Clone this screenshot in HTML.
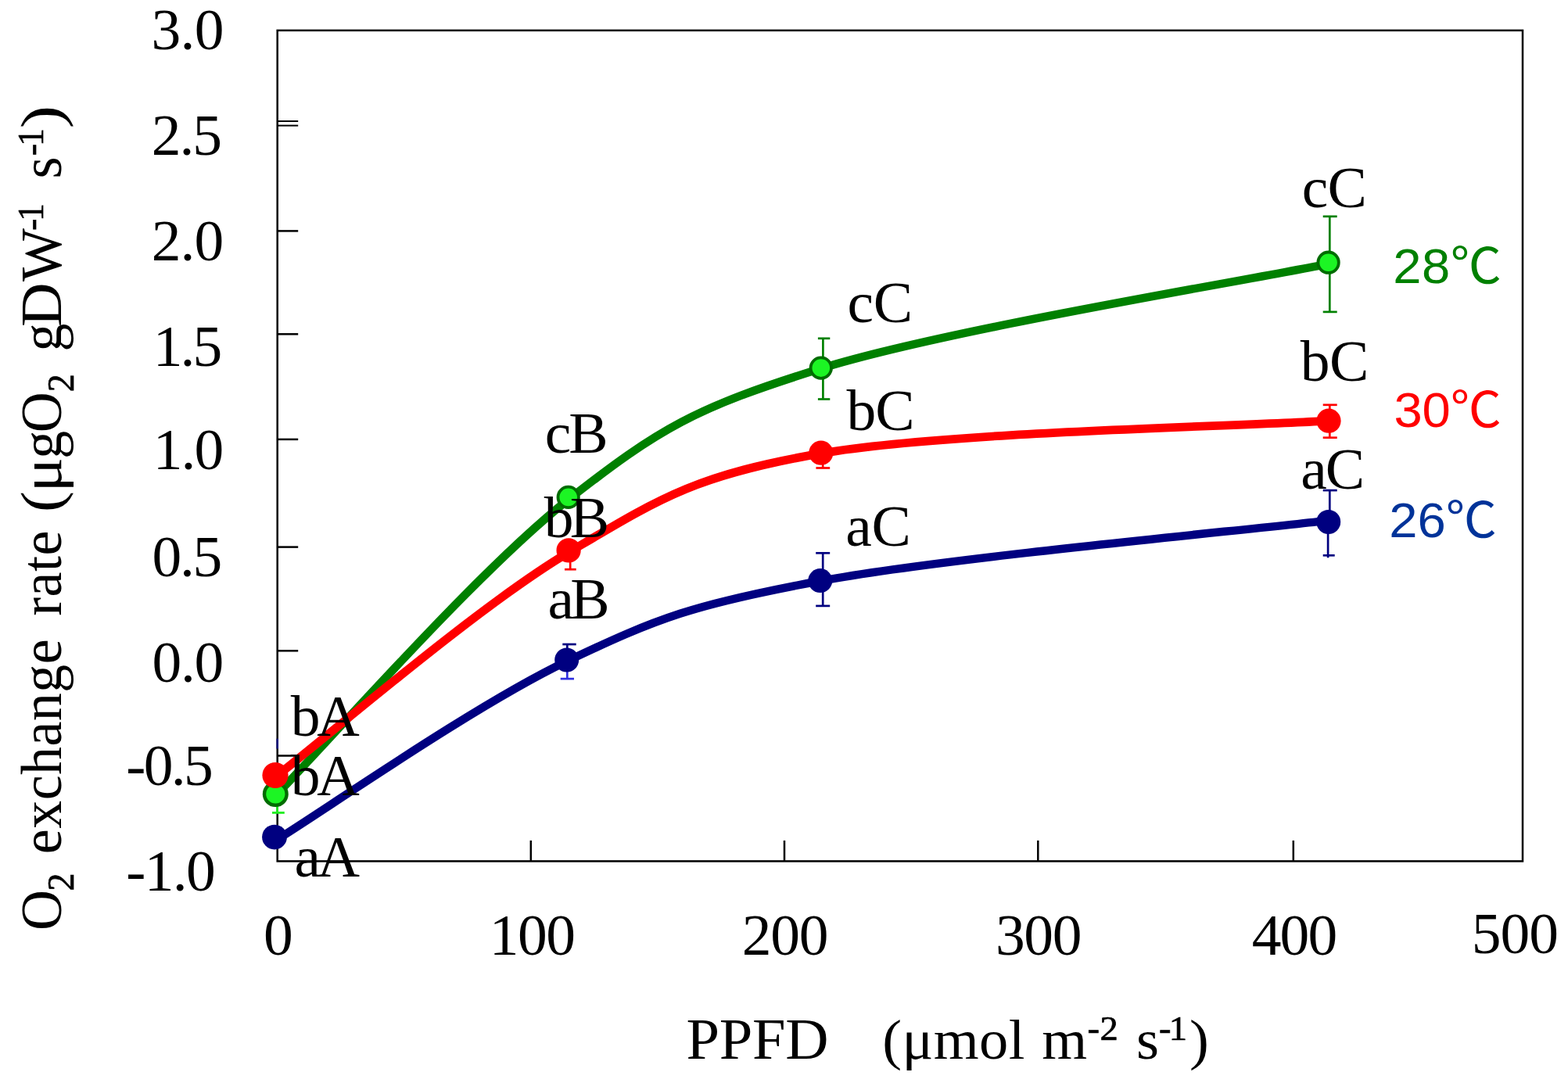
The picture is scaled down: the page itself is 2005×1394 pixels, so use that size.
<!DOCTYPE html>
<html lang="en"><head><meta charset="utf-8"><title>O2 exchange rate vs PPFD</title>
<style>html,body{margin:0;padding:0;background:#fff;overflow:hidden}svg{display:block;font-family:"Liberation Serif",serif;font-size:73px}.s{font-family:"Liberation Sans","Noto Sans CJK JP",sans-serif}.u{stroke:#000;stroke-width:0.7px}</style></head><body>
<svg width="2005" height="1394" viewBox="0 0 2005 1394">
<rect width="2005" height="1394" fill="#fff"/>
<g stroke="#000" stroke-width="2.50" fill="none">
<rect x="354.7" y="38.9" width="1592.3" height="1062.5"/>
<line x1="354.7" y1="295.4" x2="381.2" y2="295.4"/>
<line x1="354.7" y1="427.3" x2="381.2" y2="427.3"/>
<line x1="354.7" y1="561.9" x2="381.2" y2="561.9"/>
<line x1="354.7" y1="699.6" x2="381.2" y2="699.6"/>
<line x1="354.7" y1="832.3" x2="381.2" y2="832.3"/>
<line x1="354.7" y1="966.5" x2="381.2" y2="966.5"/>
<line x1="678.8" y1="1101.4" x2="678.8" y2="1074.9"/>
<line x1="1003.0" y1="1101.4" x2="1003.0" y2="1074.9"/>
<line x1="1327.3" y1="1101.4" x2="1327.3" y2="1074.9"/>
<line x1="1653.8" y1="1101.4" x2="1653.8" y2="1074.9"/>
</g>
<g stroke="#000" stroke-width="2" fill="none"><line x1="354.7" y1="155" x2="381.2" y2="155"/><line x1="354.7" y1="160.6" x2="381.2" y2="160.6"/></g>
<line x1="354.7" y1="944.6" x2="354.7" y2="957.6" stroke="#000080" stroke-width="2.4"/>
<text transform="translate(193.62,63.10) scale(1.035,1)" letter-spacing="-0.75">3.0</text>
<text transform="translate(193.78,197.90) scale(1.035,1)" letter-spacing="-1.98">2.5</text>
<text transform="translate(193.78,332.50) scale(1.035,1)" letter-spacing="-0.92">2.0</text>
<text transform="translate(195.70,467.90) scale(1.035,1)" letter-spacing="-2.81">1.5</text>
<text transform="translate(195.70,599.80) scale(1.035,1)" letter-spacing="-1.85">1.0</text>
<text transform="translate(194.48,737.20) scale(1.035,1)" letter-spacing="-2.22">0.5</text>
<text transform="translate(194.48,871.70) scale(1.035,1)" letter-spacing="-1.26">0.0</text>
<text transform="translate(161.33,1004.10) scale(1.035,1)" letter-spacing="-2.62">-0.5</text>
<text transform="translate(161.23,1138.70) scale(1.035,1)" letter-spacing="-1.62">-1.0</text>
<text transform="translate(336.88,1221.30) scale(1.035,1)">0</text>
<text transform="translate(625.70,1221.30) scale(1.035,1)" letter-spacing="-1.50">100</text>
<text transform="translate(948.68,1221.30) scale(1.035,1)" letter-spacing="-1.20">200</text>
<text transform="translate(1273.02,1221.30) scale(1.035,1)" letter-spacing="-1.37">300</text>
<text transform="translate(1600.69,1221.30) scale(1.035,1)" letter-spacing="-1.79">400</text>
<text transform="translate(1881.77,1219.10) scale(1.035,1)" letter-spacing="-1.00">500</text>
<text transform="translate(0,1353.80) scale(1.035,1)"><tspan x="847.92" y="0.00" font-size="74" letter-spacing="-0.35">PPFD</tspan> <tspan x="1090.16" y="0.00" font-size="72" letter-spacing="0.34">(μmol</tspan> <tspan x="1287.16" y="0.00" font-size="72">m</tspan><tspan x="1343.48" y="-24.30" font-size="45" class="u" letter-spacing="0.55">-2</tspan> <tspan x="1403.88" y="0.00" font-size="72">s</tspan><tspan x="1431.79" y="-24.30" font-size="45" class="u" letter-spacing="-2.54">-1</tspan><tspan x="1469.53" y="0.00" font-size="72">)</tspan></text>
<text transform="translate(78.20,1394) scale(1.035,1) rotate(-90)"><tspan x="203.92" y="0.00" font-size="72">O</tspan><tspan x="254.56" y="15.50" font-size="46" class="u">2</tspan> <tspan x="301.82" y="0.00" font-size="72" letter-spacing="0.43">exchange</tspan> <tspan x="606.16" y="0.00" font-size="72" letter-spacing="0.47">rate</tspan> <tspan x="739.08" y="0.00" font-size="72" textLength="26.78" lengthAdjust="spacingAndGlyphs">(</tspan><tspan x="764.55" y="0.00" font-size="72" textLength="44.56" lengthAdjust="spacingAndGlyphs">μ</tspan><tspan x="807.22" y="0.00" font-size="72">g</tspan><tspan x="840.72" y="0.00" font-size="72">O</tspan><tspan x="892.66" y="15.50" font-size="46" class="u">2</tspan> <tspan x="944.52" y="0.00" font-size="72">g</tspan><tspan x="975.95" y="0.00" font-size="72" textLength="56.55" lengthAdjust="spacingAndGlyphs">D</tspan><tspan x="1034.10" y="0.00" font-size="72">W</tspan><tspan x="1099.25" y="-22.50" font-size="45" class="u" letter-spacing="-2.85">-1</tspan> <tspan x="1165.52" y="0.00" font-size="72">s</tspan><tspan x="1194.95" y="-22.50" font-size="45" class="u" letter-spacing="-2.75">-1</tspan><tspan x="1229.66" y="0.00" font-size="72" textLength="29.34" lengthAdjust="spacingAndGlyphs">)</tspan></text>
<path d="M352.3,1017.5 C414.7,954.4 610.5,730.0 726.7,639.0 C843.0,548.0 887.8,521.6 1049.8,471.3 C1211.8,421.0 1590.5,359.6 1698.6,337.3" fill="none" stroke="#008000" stroke-width="10.5" stroke-linecap="round"/>
<g stroke="#24ee24" stroke-width="2.9" fill="none">
<line x1="354.5" y1="1015.0" x2="354.5" y2="1039.4"/>
<line x1="348.0" y1="1039.4" x2="363.8" y2="1039.4"/>
</g>
<g stroke="#008000" stroke-width="2.7" fill="none">
<line x1="1052.4" y1="432.8" x2="1052.4" y2="510.5"/>
<line x1="1045.9" y1="432.8" x2="1061.3" y2="432.8"/>
<line x1="1045.9" y1="510.5" x2="1061.3" y2="510.5"/>
</g>
<g stroke="#008000" stroke-width="2.7" fill="none">
<line x1="1700.3" y1="276.8" x2="1700.3" y2="398.9"/>
<line x1="1691.7" y1="276.8" x2="1709.7" y2="276.8"/>
<line x1="1691.7" y1="398.9" x2="1709.7" y2="398.9"/>
</g>
<circle cx="352.3" cy="1015.5" r="14.3" fill="#1cf524" stroke="#006c00" stroke-width="4.4"/>
<circle cx="726.7" cy="635.9" r="13.2" fill="#1cf524" stroke="#006c00" stroke-width="3.8"/>
<circle cx="1049.8" cy="470.6" r="13.2" fill="#1cf524" stroke="#006c00" stroke-width="3.8"/>
<circle cx="1698.6" cy="335.7" r="13.2" fill="#1cf524" stroke="#006c00" stroke-width="3.8"/>
<path d="M351.0,1075.7 C413.3,1037.4 608.4,901.2 724.7,845.8 C841.0,790.3 886.5,773.0 1048.8,743.0 C1211.1,713.0 1590.4,678.5 1698.7,665.6" fill="none" stroke="#000080" stroke-width="10.5" stroke-linecap="round"/>
<g stroke="#000080" stroke-width="2.7" fill="none">
<line x1="725.3" y1="824.0" x2="725.3" y2="844.0"/>
<line x1="719.3" y1="824.0" x2="736.7" y2="824.0"/>
</g>
<g stroke="#3030e0" stroke-width="2.7" fill="none">
<line x1="725.3" y1="844.0" x2="725.3" y2="868.1"/>
<line x1="716.7" y1="868.1" x2="734.0" y2="868.1"/>
</g>
<g stroke="#000080" stroke-width="2.7" fill="none">
<line x1="1052.2" y1="707.3" x2="1052.2" y2="774.9"/>
<line x1="1043.2" y1="707.3" x2="1061.2" y2="707.3"/>
<line x1="1043.2" y1="774.9" x2="1061.2" y2="774.9"/>
</g>
<g stroke="#000080" stroke-width="2.7" fill="none">
<line x1="1700.3" y1="627.1" x2="1700.3" y2="667.0"/>
<line x1="1691.7" y1="627.1" x2="1709.7" y2="627.1"/>
</g>
<g stroke="#000080" stroke-width="2.7" fill="none">
<line x1="1698.1" y1="667.0" x2="1698.1" y2="713.3"/>
<line x1="1691.7" y1="710.3" x2="1706.7" y2="710.3"/>
</g>
<circle cx="351.0" cy="1070.6" r="15.9" fill="#000080"/>
<circle cx="724.7" cy="844.0" r="15.5" fill="#000080"/>
<circle cx="1048.8" cy="742.6" r="15.5" fill="#000080"/>
<circle cx="1698.7" cy="667.5" r="15.5" fill="#000080"/>
<path d="M352.0,993.7 C414.5,945.8 610.8,775.5 727.1,706.5 C843.4,637.5 887.8,607.9 1049.8,579.9 C1211.8,551.9 1590.8,545.2 1699.0,538.2" fill="none" stroke="#ff0000" stroke-width="10.8" stroke-linecap="round"/>
<g stroke="#ff0000" stroke-width="2.7" fill="none">
<line x1="729.2" y1="704.0" x2="729.2" y2="728.2"/>
<line x1="722.0" y1="728.2" x2="736.7" y2="728.2"/>
</g>
<g stroke="#ff0000" stroke-width="2.7" fill="none">
<line x1="1052.2" y1="579.0" x2="1052.2" y2="598.5"/>
<line x1="1043.4" y1="598.5" x2="1061.2" y2="598.5"/>
</g>
<g stroke="#ff0000" stroke-width="2.7" fill="none">
<line x1="1700.3" y1="517.8" x2="1700.3" y2="559.7"/>
<line x1="1691.7" y1="517.8" x2="1709.7" y2="517.8"/>
<line x1="1691.7" y1="559.7" x2="1709.7" y2="559.7"/>
</g>
<circle cx="352.0" cy="991.5" r="16.6" fill="#ff0000"/>
<circle cx="727.1" cy="703.9" r="15.6" fill="#ff0000"/>
<circle cx="1049.8" cy="579.2" r="15.6" fill="#ff0000"/>
<circle cx="1699.0" cy="538.2" r="15.6" fill="#ff0000"/>
<text transform="translate(371.80,941.30) scale(1.035,1)" letter-spacing="-4.23">bA</text>
<text transform="translate(371.80,1016.50) scale(1.035,1)" letter-spacing="-4.23">bA</text>
<text transform="translate(376.53,1120.90) scale(1.035,1)" letter-spacing="-4.42">aA</text>
<text transform="translate(696.78,578.90) scale(1.035,1)" letter-spacing="-2.92">cB</text>
<text transform="translate(695.80,687.00) scale(1.035,1)" letter-spacing="-4.66">bB</text>
<text transform="translate(700.43,791.20) scale(1.035,1)" letter-spacing="-4.52">aB</text>
<text transform="translate(1083.48,412.30) scale(1.035,1)" letter-spacing="-0.26">cC</text>
<text transform="translate(1082.50,550.00) scale(1.035,1)" letter-spacing="-1.03">bC</text>
<text transform="translate(1081.23,698.20) scale(1.035,1)" letter-spacing="-0.31">aC</text>
<text transform="translate(1664.78,264.70) scale(1.035,1)" letter-spacing="-0.84">cC</text>
<text transform="translate(1662.80,487.40) scale(1.035,1)" letter-spacing="-0.64">bC</text>
<text transform="translate(1663.13,625.00) scale(1.035,1)" letter-spacing="-1.95">aC</text>
<text transform="translate(1781.24,361.90) scale(1.035,1)" font-size="63" class="s" fill="#008000" letter-spacing="0.48">28℃</text>
<text transform="translate(1782.49,546.00) scale(1.035,1)" font-size="63" class="s" fill="#ff0000" letter-spacing="-0.13">30℃</text>
<text transform="translate(1776.24,686.70) scale(1.035,1)" font-size="63" class="s" fill="#003399">26℃</text>
</svg></body></html>
